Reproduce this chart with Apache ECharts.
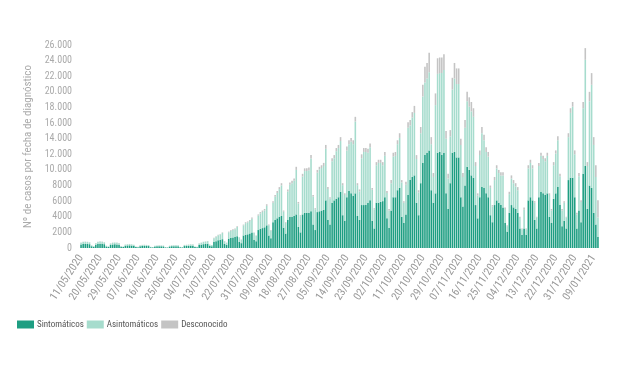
<!DOCTYPE html>
<html>
<head>
<meta charset="utf-8">
<script src="https://cdn.jsdelivr.net/npm/echarts@6/dist/echarts.min.js"></script>
<style>html,body{margin:0;padding:0;background:#fff}#c{width:620px;height:368px}</style>
</head>
<body>
<div id="c"></div>
<script>
// Categories: daily dates from 11/05/2020 (246 days, to 11/01/2021)
var startDate = [2020, 4, 11];
var dayCount = 246;
var categories = [];
(function(){
  var d = new Date(Date.UTC(startDate[0], startDate[1], startDate[2]));
  for (var i = 0; i < dayCount; i++) {
    var dd = String(d.getUTCDate()).padStart(2,'0');
    var mm = String(d.getUTCMonth()+1).padStart(2,'0');
    categories.push(dd + '/' + mm + '/' + d.getUTCFullYear());
    d.setUTCDate(d.getUTCDate()+1);
  }
})();

var seriesNames = ['Sintomáticos', 'Asintomáticos', 'Desconocido'];
var yTicks = [0, 26000, 2000];

var sintomaticos = [
460,520,530,520,490,230,160,
420,520,550,530,490,200,140,
390,450,470,450,420,160,130,
290,330,340,310,280,120,100,
230,260,270,260,250,100,80,
200,215,230,220,210,85,65,
195,230,235,240,235,100,80,
250,260,280,300,290,125,105,
370,430,490,520,550,270,230,
780,880,980,1030,1130,520,400,
1200,1300,1350,1400,1500,780,620,
1600,1700,1750,1850,2000,1050,850,
2300,2450,2550,2650,2900,1600,1250,
3300,3600,3800,4000,4100,2600,1850,
3600,4000,4000,4100,4300,2700,2000,
4300,4500,4500,4500,4700,3000,2300,
4600,4700,4800,4900,6100,3600,3000,
5800,6100,6300,6500,7200,4200,3500,
6500,7300,7000,6700,7000,4100,3600,
5500,5500,5500,5800,6100,3500,2500,
5800,5800,5900,6000,6500,3800,2600,
4800,6500,6500,7400,7700,4000,3200,
4300,6800,8700,9100,9300,5800,4200,
8300,10900,11900,12200,12500,7400,5800,
7000,12200,12300,11900,12200,7000,5000,
8300,12200,12300,11600,11600,6500,5300,
8000,10400,10000,9300,9000,5500,3800,
6500,7800,7700,7000,6500,4200,3300,
5500,6100,5800,5500,5200,3200,2100,
4500,5500,5200,5000,4500,2500,1700,
2500,1700,6100,6500,6100,3600,2500,
6500,7200,7000,6800,7000,4000,3200,
6300,7000,7800,5500,2800,3500,2500,
8700,9000,9000,6500,2500,4800,3300,
9500,10500,5000,8000,7700,4500,3000,
1400
];
var asintomaticos = [
210,250,260,250,230,105,80,
200,250,270,260,230,90,70,
180,220,220,220,200,80,60,
140,150,160,150,130,50,40,
100,120,130,120,110,40,30,
85,100,105,105,95,35,25,
90,105,110,115,110,40,30,
130,140,150,160,160,65,55,
200,240,280,300,320,165,140,
470,560,660,710,800,350,280,
820,910,960,1010,1200,580,450,
1300,1480,1530,1620,1760,890,700,
1850,1980,2070,2170,2500,1300,980,
2500,2980,3250,3540,3920,2050,1350,
3650,4100,4300,4500,5700,3000,2080,
4850,5350,5350,5450,6750,3600,2650,
5050,5350,5450,5600,6600,3950,3300,
5300,5400,6100,6300,6500,3850,3300,
6000,6000,6600,6600,9200,3950,3650,
6000,6800,6800,6400,6800,3950,2450,
4800,5100,5000,4600,5300,3250,2200,
3500,5200,5300,5900,6400,4400,2600,
3800,8600,7000,7600,8000,5600,2900,
6400,8500,9300,9500,10000,5900,3300,
11300,10100,10100,10500,10600,7000,3900,
6000,8100,9400,9400,9400,6700,3800,
7400,8400,8100,8200,7800,5000,2900,
5400,6900,6100,5300,5200,3500,2000,
3200,4100,3800,3800,4100,1800,700,
2400,3400,3100,2900,2900,1350,700,
2400,700,4100,4400,4100,2200,1400,
4000,4600,4400,4300,4800,2800,1600,
4300,5100,6000,3700,2000,2300,1400,
5500,8300,9100,5500,1800,4400,2600,
8400,13600,5500,10800,13200,8700,6100,
2500
];
var desconocido = [
30,30,30,30,30,15,10,
30,30,30,30,30,10,10,
30,30,30,30,30,10,10,
20,20,20,20,20,10,10,
20,20,20,20,20,10,10,
15,15,15,15,15,10,10,
15,15,15,15,15,10,10,
20,20,20,20,20,10,10,
30,30,30,30,30,15,10,
50,60,60,60,70,30,20,
80,90,90,90,100,40,30,
100,120,120,130,140,60,50,
150,170,180,180,200,100,70,
200,220,250,260,280,150,100,
250,300,300,300,400,200,120,
350,350,350,350,450,200,150,
350,350,350,400,500,250,200,
400,400,400,400,500,250,200,
500,500,500,500,600,250,250,
500,500,500,500,500,250,150,
400,400,400,400,500,250,200,
400,500,500,500,600,300,200,
400,700,700,700,900,500,300,
800,1500,2000,2000,2500,900,500,
1500,2000,2000,2000,2000,1000,600,
800,1500,2000,2000,2000,800,500,
1000,1200,1200,1200,1100,500,300,
600,800,700,600,600,300,200,
400,400,400,400,400,200,100,
300,400,400,400,400,150,100,
300,100,400,400,400,200,100,
400,400,400,400,400,200,200,
400,400,500,300,200,200,100,
500,600,600,500,200,400,200,
800,1500,500,1200,1500,1000,1500,
2200
];

var colors = ['#1e9e82', '#a6dccd', '#c4c4c4'];
var FONT = "'Liberation Sans Narrow', 'Roboto Condensed', 'Roboto', sans-serif";

function fmt(v){
  if (v >= 10000) { var s = String(v); return s.slice(0, s.length-3) + '.' + s.slice(-3); }
  return String(v);
}

var chart = echarts.init(document.getElementById('c'), null, {renderer:'canvas'});
var data = [sintomaticos, asintomaticos, desconocido];
chart.setOption({
  animation: false,
  color: colors,
  grid: {left: 80, right: 21, top: 45, bottom: 120},
  legend: {
    data: seriesNames, left: 12, top: 315, icon: 'rect',
    itemWidth: 17, itemHeight: 8, itemGap: 3,
    textStyle: {fontFamily: FONT, fontSize: 9, color: '#555', padding: [0,0,0,-2]}
  },
  xAxis: {
    type: 'category', data: categories,
    axisLine: {show: false}, axisTick: {show: false},
    axisLabel: {interval: 8, rotate: 57, fontFamily: FONT, fontSize: 11, color: '#999', margin: 8}
  },
  yAxis: {
    type: 'value', min: yTicks[0], max: yTicks[1], interval: yTicks[2],
    name: 'Nº de casos por fecha de diagnóstico', nameLocation: 'middle', nameGap: 45,
    nameTextStyle: {fontFamily: FONT, fontSize: 11, color: '#aaa'},
    axisLine: {show: false}, axisTick: {show: false}, splitLine: {show: false},
    axisLabel: {fontFamily: FONT, fontSize: 10, color: '#aaa', margin: 8, formatter: fmt}
  },
  series: seriesNames.map(function(n, i){
    return {name: n, type: 'bar', stack: 'total', data: data[i], barCategoryGap: '25%',
      itemStyle: {color: colors[i]}, emphasis: {disabled: true}};
  })
});
</script>
</body>
</html>
